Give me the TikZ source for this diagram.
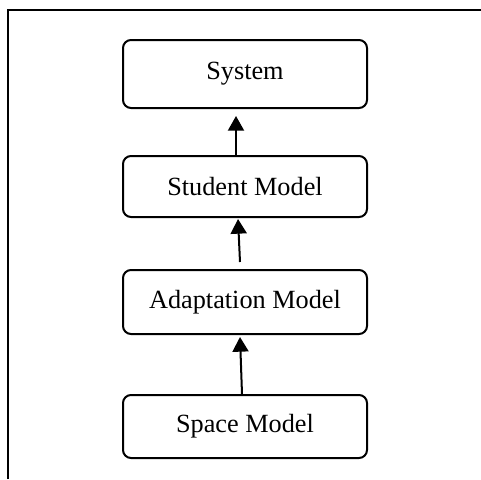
\documentclass[tikz,border=0pt]{standalone}
\usepackage{fontspec}
\setmainfont{Liberation Serif}
\usetikzlibrary{arrows.meta,calc}
\begin{document}
\begin{tikzpicture}[x=0.75pt,y=-0.75pt,
  box/.style={draw,line width=1.5pt,rounded corners=6pt,minimum width=183pt,inner sep=0pt,
    font=\fontsize{19.7}{23}\selectfont},
  frameline/.style={line width=2pt},
  conn/.style={line width=1.5pt,-{Triangle[width=12pt,length=11pt]}}]
\useasboundingbox (0,0) rectangle (481,479);
\coordinate (fl) at (8,479);
\coordinate (fc) at (8,10);
\coordinate (fr) at (481,10);
\draw[frameline] (fl) -- (fc) -- (fr);
\node[box,minimum height=51pt] (sys) at (245,74) {System};
\node[box,minimum height=45.75pt] (stu) at (245,186.5) {Student Model};
\node[box,minimum height=48pt] (ada) at (245,302) {Adaptation Model};
\node[box,minimum height=47.25pt] (spa) at (245,426.5) {Space Model};
\draw[conn] ($(stu.north)+(-9,0)$) -- ($(sys.south)+(-9,7)$);
\draw[conn] ($(ada.north)+(-5,-7)$) -- ($(stu.south)+(-7,1)$);
\draw[conn] ($(spa.north)+(-3,0)$) -- ($(ada.south)+(-5,2)$);
\end{tikzpicture}
\end{document}
